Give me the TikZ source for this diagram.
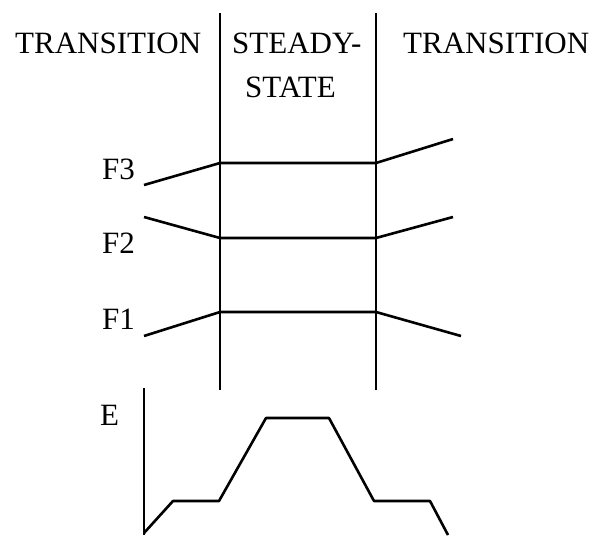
\documentclass[tikz,border=0pt]{standalone}
\usepackage{fontspec}
\setmainfont{Liberation Serif}
\begin{document}
\begin{tikzpicture}[x=1pt,y=-1pt,
  lbl/.style={anchor=base west,inner sep=0pt,font=\fontsize{31}{37}\selectfont},
  curve/.style={line width=2.6pt,line join=round},
  divider/.style={line width=2pt}]
  \useasboundingbox (0,0) rectangle (593,535);
  % headings
  \node[lbl] (left) at (15,53) {TRANSITION};
  \node[lbl] (steady) at (232,53) {STEADY-};
  \node[lbl] (state) at (245,97) {STATE};
  \node[lbl] (right) at (403,53) {TRANSITION};
  % dividers
  \coordinate (d1t) at (220,13); \coordinate (d1b) at (220,390);
  \coordinate (d2t) at (376,13); \coordinate (d2b) at (376,390);
  \draw[divider] (d1t) -- (d1b);
  \draw[divider] (d2t) -- (d2b);
  % frequencies
  \node[lbl] (F3) at (102,179) {F3};
  \node[lbl] (F2) at (102,253) {F2};
  \node[lbl] (F1) at (102,329) {F1};
  \coordinate (f3a) at (144,185); \coordinate (f3b) at (220,163);
  \coordinate (f3c) at (376,163); \coordinate (f3d) at (453,139);
  \coordinate (f2a) at (144,217); \coordinate (f2b) at (220,238);
  \coordinate (f2c) at (376,238); \coordinate (f2d) at (453,217);
  \coordinate (f1a) at (144,336); \coordinate (f1b) at (220,312);
  \coordinate (f1c) at (376,312); \coordinate (f1d) at (461,336);
  \draw[curve] (f3a) -- (f3b) -- (f3c) -- (f3d);
  \draw[curve] (f2a) -- (f2b) -- (f2c) -- (f2d);
  \draw[curve] (f1a) -- (f1b) -- (f1c) -- (f1d);
  % E axis and curve
  \node[lbl] (E) at (100,425) {E};
  \coordinate (etop) at (144,388); \coordinate (e0) at (144,535);
  \draw[curve] (etop) -- (e0);
  \coordinate (e1) at (144,533); \coordinate (e2) at (173,501);
  \coordinate (e3) at (219,501); \coordinate (e4) at (266,418);
  \coordinate (e5) at (329,418); \coordinate (e6) at (374,501);
  \coordinate (e7) at (430,501); \coordinate (e8) at (448,535);
  \draw[curve] (e1) -- (e2) -- (e3) -- (e4) -- (e5) -- (e6) -- (e7) -- (e8);
\end{tikzpicture}
\end{document}
